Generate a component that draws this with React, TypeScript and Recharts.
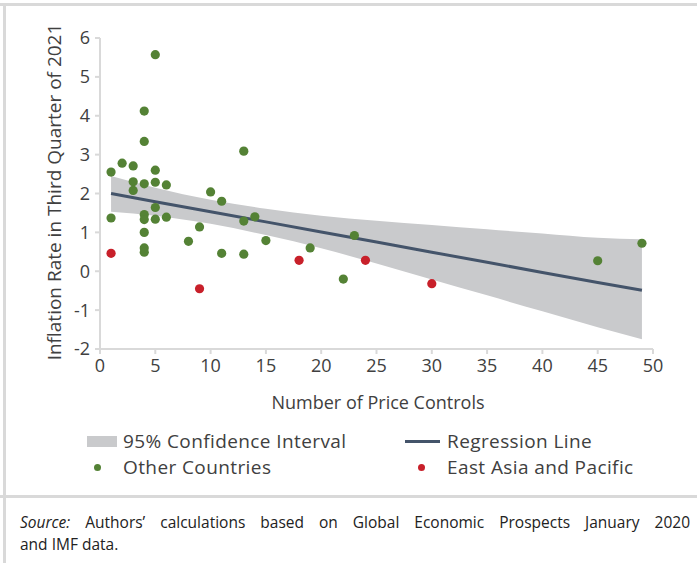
import { ComposedChart, Area, Line, Scatter, XAxis, YAxis } from "recharts";

// regression fit and 95% band
const ciX = [1, 5, 10, 15, 20, 25, 30, 35, 40, 45, 49];
const ciUpper = [2.45, 2.15, 1.84, 1.61, 1.43, 1.3, 1.19, 1.08, 0.97, 0.86, 0.82];
const ciLower = [1.53, 1.43, 1.22, 0.93, 0.59, 0.2, -0.21, -0.62, -1.03, -1.44, -1.75];
const fitValues = [2.0, 1.79, 1.53, 1.27, 1.01, 0.75, 0.49, 0.23, -0.03, -0.29, -0.49];

const otherX = [
  1, 1, 2, 3, 3, 3, 4, 4, 4, 4, 4, 4, 4, 4, 5, 5, 5, 5, 5, 6, 6, 8, 9, 10, 11, 11, 13, 13, 13, 14, 15, 19, 22, 23,
  45, 49,
];
const otherY = [
  2.55, 1.37, 2.78, 2.71, 2.3, 2.08, 4.12, 3.34, 2.25, 1.46, 1.33, 1.0, 0.6, 0.49, 5.57, 2.6, 2.29, 1.64, 1.34,
  2.22, 1.39, 0.77, 1.14, 2.04, 1.8, 0.46, 3.09, 1.29, 0.44, 1.4, 0.79, 0.6, -0.2, 0.92, 0.27, 0.72,
];

const eapX = [1, 9, 18, 24, 30];
const eapY = [0.46, -0.45, 0.28, 0.28, -0.32];

const xTicks = [0, 5, 10, 15, 20, 25, 30, 35, 40, 45, 50];
const yTicks = [-2, -1, 0, 1, 2, 3, 4, 5, 6];

const GREEN = "#548235";
const RED = "#c8202a";
const NAVY = "#44546a";
const BAND = "#c9cacc";
const AXIS = "#d9d9d9";
const TEXT = "#404040";
const FONT = "'Open Sans', sans-serif";

const bandRows = ciX.map((x, i) => ({ x, band: [ciLower[i], ciUpper[i]], fit: fitValues[i] }));
const otherPoints = otherX.map((x, i) => ({ x, y: otherY[i] }));
const eapPoints = eapX.map((x, i) => ({ x, y: eapY[i] }));

const dot = (color: string) => (props: any) => <circle cx={props.cx} cy={props.cy} r={4.6} fill={color} />;

export default function App() {
  return (
    <div style={{ position: "absolute", left: 0, top: 0, width: 697, height: 563, background: "#fff", fontFamily: FONT }}>
      <div style={{ position: "absolute", left: 0, top: 3, width: 697, height: 3, background: AXIS }} />
      <div style={{ position: "absolute", left: 3, top: 3, width: 3, height: 560, background: AXIS }} />
      <div style={{ position: "absolute", left: 0, top: 495, width: 697, height: 3, background: AXIS }} />

      <div style={{ position: "absolute", left: 0, top: 0 }}>
        <ComposedChart width={697} height={420} data={bandRows} margin={{ top: 38, right: 44, bottom: 41, left: 60 }}>
          <XAxis
            type="number"
            dataKey="x"
            domain={[0, 50]}
            ticks={xTicks}
            interval={0}
            height={30}
            axisLine={{ stroke: AXIS, strokeWidth: 2 }}
            tickLine={{ stroke: AXIS, strokeWidth: 2 }}
            tickSize={5}
            tickMargin={5}
            tick={{ fill: TEXT, fontSize: 18, fontFamily: FONT }}
            label={() => (
              <text x={378} y={409} textAnchor="middle" fill={TEXT} fontSize={18} fontFamily={FONT}>
                Number of Price Controls
              </text>
            )}
          />
          <YAxis
            type="number"
            domain={[-2, 6]}
            ticks={yTicks}
            interval={0}
            width={40}
            axisLine={{ stroke: AXIS, strokeWidth: 2 }}
            tickLine={{ stroke: AXIS, strokeWidth: 2 }}
            tickSize={5}
            tickMargin={5}
            tick={{ fill: TEXT, fontSize: 18, fontFamily: FONT }}
            label={() => (
              <text
                x={0}
                y={0}
                transform="translate(61, 192) rotate(-90)"
                textAnchor="middle"
                fill={TEXT}
                fontSize={19}
                fontFamily={FONT}
              >
                Inflation Rate in Third Quarter of 2021
              </text>
            )}
          />
          <Area type="monotone" dataKey="band" fill={BAND} fillOpacity={1} stroke="none" isAnimationActive={false} />
          <Line type="linear" dataKey="fit" stroke={NAVY} strokeWidth={3} dot={false} isAnimationActive={false} />
          <Scatter data={otherPoints} dataKey="y" shape={dot(GREEN)} isAnimationActive={false} />
          <Scatter data={eapPoints} dataKey="y" shape={dot(RED)} isAnimationActive={false} />
        </ComposedChart>
      </div>

      <div
        style={{
          position: "absolute",
          left: 0,
          top: 429,
          width: 697,
          fontSize: 19,
          letterSpacing: 0.4,
          color: TEXT,
          lineHeight: "24px",
        }}
      >
        <div style={{ position: "absolute", left: 87, top: 7, width: 30, height: 11, background: BAND }} />
        <div style={{ position: "absolute", left: 123, top: 0, whiteSpace: "nowrap" }}>95% Confidence Interval</div>
        <div style={{ position: "absolute", left: 405, top: 11, width: 35, height: 3, background: NAVY }} />
        <div style={{ position: "absolute", left: 447, top: 0, whiteSpace: "nowrap" }}>Regression Line</div>
        <div style={{ position: "absolute", left: 94, top: 35, width: 7, height: 7, borderRadius: 4, background: GREEN }} />
        <div style={{ position: "absolute", left: 123, top: 26, whiteSpace: "nowrap" }}>Other Countries</div>
        <div style={{ position: "absolute", left: 418, top: 35, width: 7, height: 7, borderRadius: 4, background: RED }} />
        <div style={{ position: "absolute", left: 447, top: 26, whiteSpace: "nowrap" }}>East Asia and Pacific</div>
      </div>

      <div style={{ position: "absolute", left: 20, top: 511, width: 670, fontSize: 15.5, color: "#222", lineHeight: "22px" }}>
        <div style={{ textAlign: "justify", textAlignLast: "justify" }}>
          <i>Source:</i> Authors’ calculations based on Global Economic Prospects January 2020
        </div>
        <div>and IMF data.</div>
      </div>
    </div>
  );
}
